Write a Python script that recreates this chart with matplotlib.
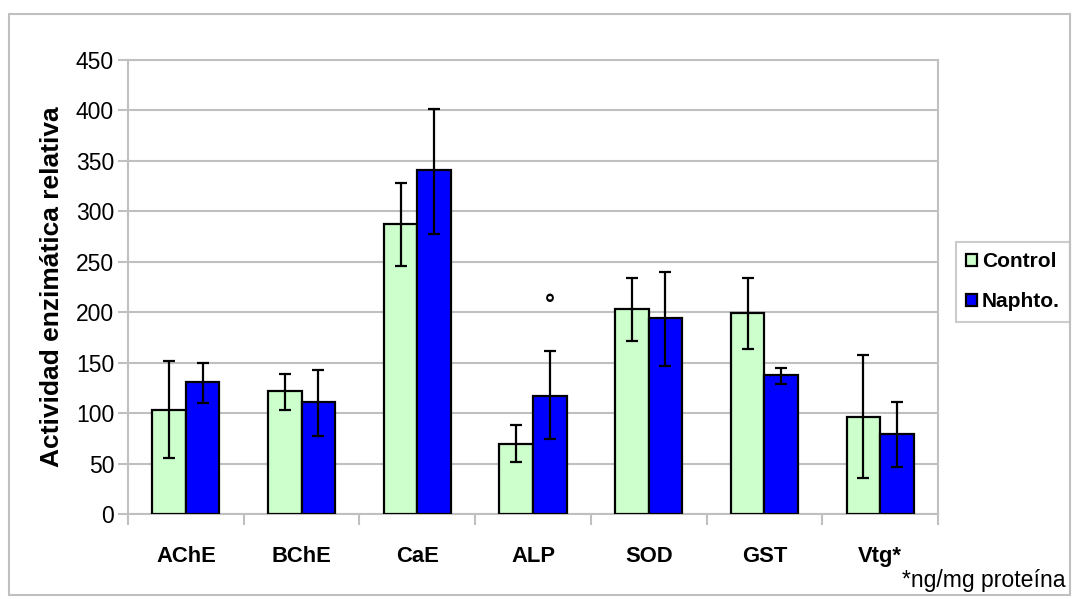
import matplotlib
matplotlib.use("Agg")
import matplotlib.pyplot as plt
from matplotlib.patches import Rectangle
import numpy as np

categories = ["AChE", "BChE", "CaE", "ALP", "SOD", "GST", "Vtg*"]
control_vals = [103, 122, 287, 69, 203, 199, 96]
control_lo = [56, 103, 246, 52, 171, 164, 36]
control_hi = [152, 139, 328, 88, 234, 234, 158]
naphto_vals = [131, 111, 341, 117, 194, 138, 79]
naphto_lo = [110, 77, 278, 74, 147, 129, 47]
naphto_hi = [150, 143, 401, 162, 240, 145, 111]
series_names = ["Control", "Naphto."]
yticks = list(range(0, 451, 50))
ylabel = "Actividad enzimática relativa"
footnote = "*ng/mg proteína"
marker_cat = "ALP"
marker_val = 207

plt.rcParams["font.family"] = ["Liberation Sans", "DejaVu Sans"]

fig = plt.figure(figsize=(10.76, 5.99), dpi=100)
W, H = 1076, 599
ax = fig.add_axes([128 / W, (H - 514) / H, (938 - 128) / W, (514 - 60) / H])

x = np.arange(len(categories))
bw = 0.29
grey = "#c0c0c0"

c_err = [np.array(control_vals) - np.array(control_lo), np.array(control_hi) - np.array(control_vals)]
n_err = [np.array(naphto_vals) - np.array(naphto_lo), np.array(naphto_hi) - np.array(naphto_vals)]

ax.bar(x - bw / 2, control_vals, bw, color="#CCFFCC", edgecolor="black", linewidth=1.6,
       label=series_names[0], zorder=3)
ax.bar(x + bw / 2, naphto_vals, bw, color="#0000FF", edgecolor="black", linewidth=1.6,
       label=series_names[1], zorder=3)
ax.errorbar(x - bw / 2, control_vals, yerr=c_err, fmt="none", ecolor="black",
            elinewidth=1.6, capsize=4.5, capthick=1.6, zorder=4)
ax.errorbar(x + bw / 2, naphto_vals, yerr=n_err, fmt="none", ecolor="black",
            elinewidth=1.6, capsize=4.5, capthick=1.6, zorder=4)

mi = categories.index(marker_cat)
ax.text(x[mi] + bw / 2, marker_val, "°", ha="center", va="center", fontsize=18,
        fontweight="bold", zorder=5)

ax.set_xlim(-0.5, len(categories) - 0.5)
ax.set_ylim(0, 450)
ax.set_yticks(yticks)
ax.set_yticklabels([str(t) for t in yticks], fontsize=16.5)
ax.yaxis.grid(True, color=grey, linewidth=1.5, zorder=0)
ax.set_axisbelow(True)

ax.set_xticks(np.arange(len(categories) + 1) - 0.5)
ax.set_xticklabels([])
ax.set_xticks(x, minor=True)
ax.set_xticklabels(categories, minor=True, fontsize=15.8, fontweight="bold")
ax.tick_params(axis="x", which="minor", length=0, pad=23)
ax.tick_params(axis="x", which="major", length=8, width=1.5, color=grey)
ax.tick_params(axis="y", length=7, width=1.5, color=grey, pad=3)

for s in ax.spines.values():
    s.set_color(grey)
    s.set_linewidth(1.5)

ax.set_ylabel(ylabel, fontsize=19, fontweight="bold")
ax.yaxis.set_label_coords(-76 / 810, 0.5)
ax.yaxis.label.set_va("center")

leg = ax.legend(loc="upper left", bbox_to_anchor=(956 / W, (H - 242) / H),
                bbox_transform=fig.transFigure, frameon=True, fancybox=False,
                prop={"weight": "bold", "size": 15}, handlelength=0.5,
                handleheight=0.5, handletextpad=0.25, borderpad=0.5, labelspacing=1.0,
                borderaxespad=0)
leg.get_frame().set_edgecolor(grey)
leg.get_frame().set_linewidth(1.5)

fig.text(1066 / W, (H - 580) / H, footnote, ha="right", va="center", fontsize=16.6)

fig.patches.append(Rectangle((9 / W, 4 / H), (1070 - 9) / W, (H - 14 - 4) / H,
                             transform=fig.transFigure, fill=False, edgecolor=grey,
                             linewidth=1.5))

fig.savefig("out.png", dpi=100)
